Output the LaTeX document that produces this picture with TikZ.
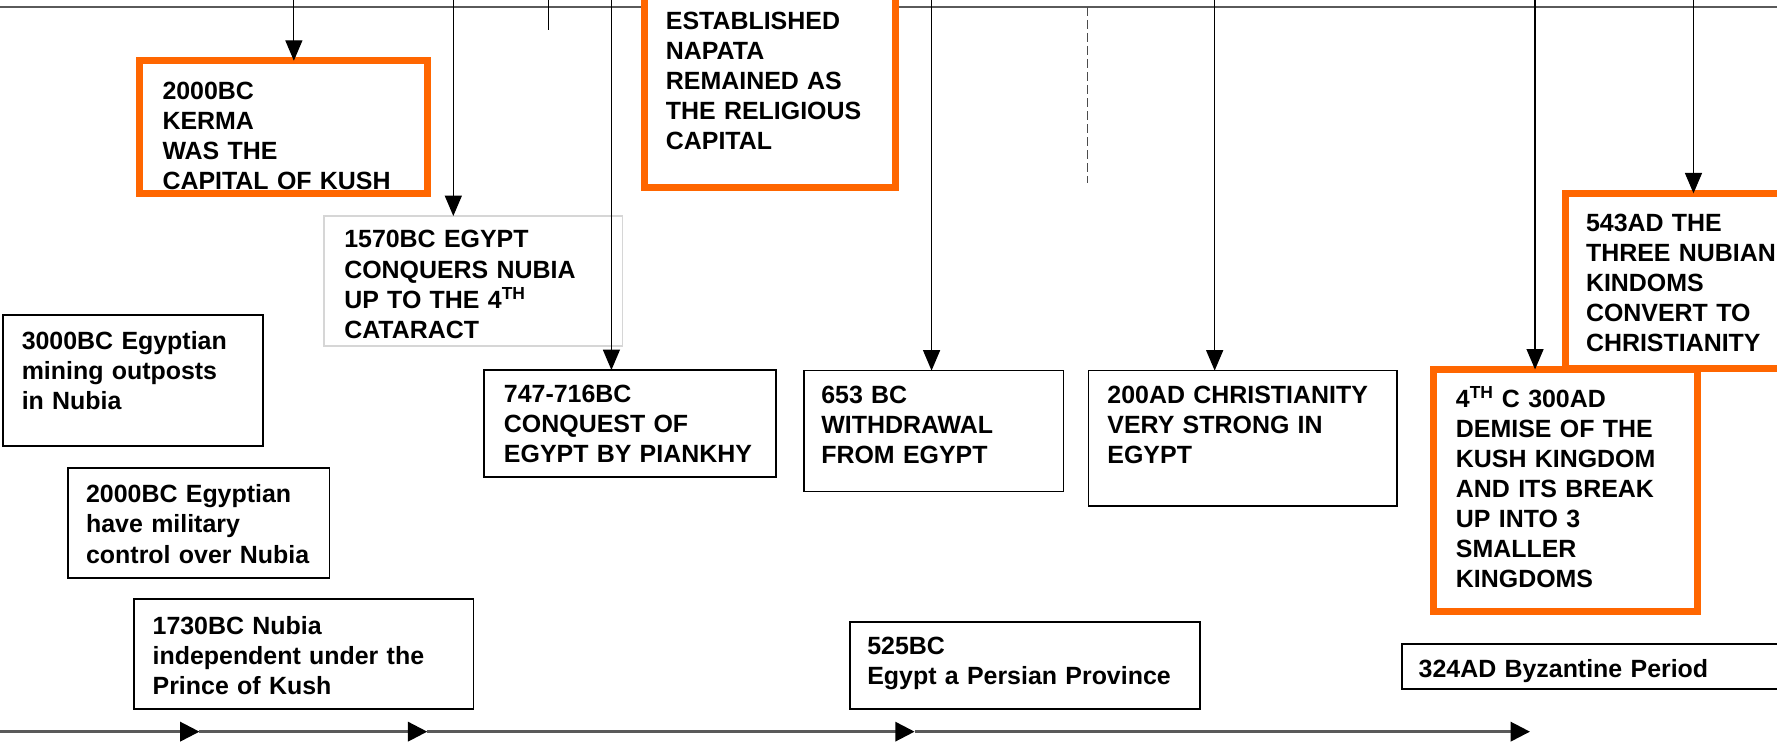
\documentclass[tikz,border=0pt]{standalone}
\usepackage{fontspec}
\setmainfont{Liberation Sans}
\usetikzlibrary{arrows.meta}
\definecolor{org}{HTML}{FF6600}
\definecolor{axisgray}{HTML}{5A5A5A}
\definecolor{lightbox}{HTML}{D6D6D6}
\tikzset{
  boxnode/.style={rectangle, inner sep=0pt, outer sep=0pt, anchor=north west},
  txt/.style={anchor=base west, inner sep=0pt, outer sep=0pt, text width=330pt, align=left,
              font=\fontsize{22}{26.5}\selectfont\bfseries},
  oborder/.style={draw=org, line width=6pt},
  kborder/.style={draw=black, line width=1.5pt},
  gborder/.style={draw=lightbox, line width=1.2pt},
  axis/.style={draw=axisgray, line width=2.2pt},
  thinline/.style={draw=black, line width=1.1pt},
  arr/.style={thinline, -{Triangle[length=18pt,width=15pt]}},
  axarr/.style={axis, -{Triangle[length=17pt,width=17pt,color=black]}},
  dashline/.style={draw=black!70, line width=1pt, dash pattern=on 8pt off 3.5pt},
}
\begin{document}
\begin{tikzpicture}[x=1pt,y=-1pt]
\useasboundingbox (0,0) rectangle (1568,656);
\clip (0,0) rectangle (1568,656);

% axes
\coordinate (t0) at (0,6);
\coordinate (t1) at (1568,6);
\draw[axis] (t0) -- (t1);
\coordinate (b0) at (0,645.6);
\coordinate (b1) at (176,645.6);
\coordinate (b2) at (377,645.6);
\coordinate (b3) at (807,645.6);
\coordinate (b4) at (1350,645.6);
\draw[axarr] (b0) -- (b1);
\draw[axarr] (b1) -- (b2);
\draw[axarr] (b2) -- (b3);
\draw[axarr] (b3) -- (b4);

% boxes (shapes)
\node[boxnode, minimum width=254pt, minimum height=117pt] (kerma) at (123,53.6) {};
\node[boxnode, fill=white, minimum width=221pt, minimum height=185.5pt] (napata) at (569,-20) {};
\node[boxnode, fill=white, minimum width=260pt, minimum height=154.4pt] (s543) at (1381.3,170.6) {};
\node[boxnode, fill=white, minimum width=233pt, minimum height=213.6pt] (c4) at (1265,326) {};
\node[boxnode, minimum width=263.5pt, minimum height=114.7pt] (b1570) at (286,190.6) {};
\node[boxnode, minimum width=229.5pt, minimum height=115.6pt] (b3000) at (2.5,278) {};
\node[boxnode, minimum width=230.9pt, minimum height=97.1pt] (b2000) at (59.8,413.2) {};
\node[boxnode, minimum width=299.9pt, minimum height=97.1pt] (b1730) at (118,528.8) {};
\node[boxnode, minimum width=258pt, minimum height=94.1pt] (b747) at (427,326.5) {};
\node[boxnode, minimum width=228.9pt, minimum height=106.8pt] (b653) at (709.6,327) {};
\node[boxnode, minimum width=272.1pt, minimum height=119.5pt] (b200) at (960.4,327) {};
\node[boxnode, minimum width=308.9pt, minimum height=76.9pt] (b525) at (749.9,549) {};
\node[boxnode, minimum width=400pt, minimum height=39.2pt] (b324) at (1237,568.5) {};

% texts
\node[txt] (tkerma) at (143.4,87.8) {2000BC\\KERMA\\WAS THE\\CAPITAL OF KUSH};
\node[txt] (tnapata) at (587.6,26.1) {ESTABLISHED\\NAPATA\\REMAINED AS\\THE RELIGIOUS\\CAPITAL};
\node[txt] (t1570) at (303.8,218.8) {1570BC EGYPT\\CONQUERS NUBIA\\UP TO THE 4\textsuperscript{TH}\\CATARACT};
\node[txt] (t3000) at (19.2,308.5) {3000BC Egyptian\\mining outposts\\in Nubia};
\node[txt] (t2000) at (76,443.8) {2000BC Egyptian\\have military\\control over Nubia};
\node[txt] (t1730) at (134.7,559.8) {1730BC Nubia\\independent under the\\Prince of Kush};
\node[txt] (t747) at (444.7,355.5) {747-716BC\\CONQUEST OF\\EGYPT BY PIANKHY};
\node[txt] (t653) at (724.7,356.4) {653 BC\\WITHDRAWAL\\FROM EGYPT};
\node[txt] (t200) at (977.2,356.4) {200AD CHRISTIANITY\\VERY STRONG IN\\EGYPT};
\node[txt] (t543) at (1399.5,204) {543AD THE\\THREE NUBIAN\\KINDOMS\\CONVERT TO\\CHRISTIANITY};
\node[txt] (t4c) at (1284.7,359.3) {4\textsuperscript{TH} C 300AD\\DEMISE OF THE\\KUSH KINGDOM\\AND ITS BREAK\\UP INTO 3\\SMALLER\\KINGDOMS};
\node[txt] (t525) at (765.3,577.6) {525BC\\Egypt a Persian Province};
\node[txt] (t324) at (1251.8,598.2) {324AD Byzantine Period};

% borders
\draw[oborder] (kerma.north west) rectangle (kerma.south east);
\draw[oborder] (napata.north west) rectangle (napata.south east);
\draw[oborder] (s543.north west) rectangle (s543.south east);
\draw[oborder] (c4.north west) rectangle (c4.south east);
\draw[gborder] (b1570.north west) rectangle (b1570.south east);
\draw[kborder] (b3000.north west) rectangle (b3000.south east);
\draw[kborder] (b2000.north west) rectangle (b2000.south east);
\draw[kborder] (b1730.north west) rectangle (b1730.south east);
\draw[kborder] (b747.north west) rectangle (b747.south east);
\draw[kborder] (b653.north west) rectangle (b653.south east);
\draw[kborder] (b200.north west) rectangle (b200.south east);
\draw[kborder] (b525.north west) rectangle (b525.south east);
\draw[kborder] (b324.north west) rectangle (b324.south east);

% vertical connectors
\coordinate (v1) at (259.3,0);
\coordinate (v2) at (400,0);
\coordinate (v3) at (483.7,0);
\coordinate (v3e) at (483.7,26.5);
\coordinate (v4) at (539.5,0);
\coordinate (v5) at (822,0);
\coordinate (v6) at (959.8,6);
\coordinate (v6e) at (959.8,161.7);
\coordinate (v7) at (1071.8,0);
\coordinate (v8) at (1354.5,0);
\coordinate (v9) at (1494.3,0);
\draw[arr] (v1) -- (v1 |- kerma.north);
\draw[arr] (v2) -- (v2 |- b1570.north);
\draw[thinline] (v3) -- (v3e);
\draw[arr] (v4) -- (v4 |- b747.north);
\draw[arr] (v5) -- (v5 |- b653.north);
\draw[dashline] (v6) -- (v6e);
\draw[arr] (v7) -- (v7 |- b200.north);
\draw[arr] (v8) -- (v8 |- c4.north);
\draw[arr] (v9) -- (v9 |- s543.north);
\end{tikzpicture}
\end{document}
